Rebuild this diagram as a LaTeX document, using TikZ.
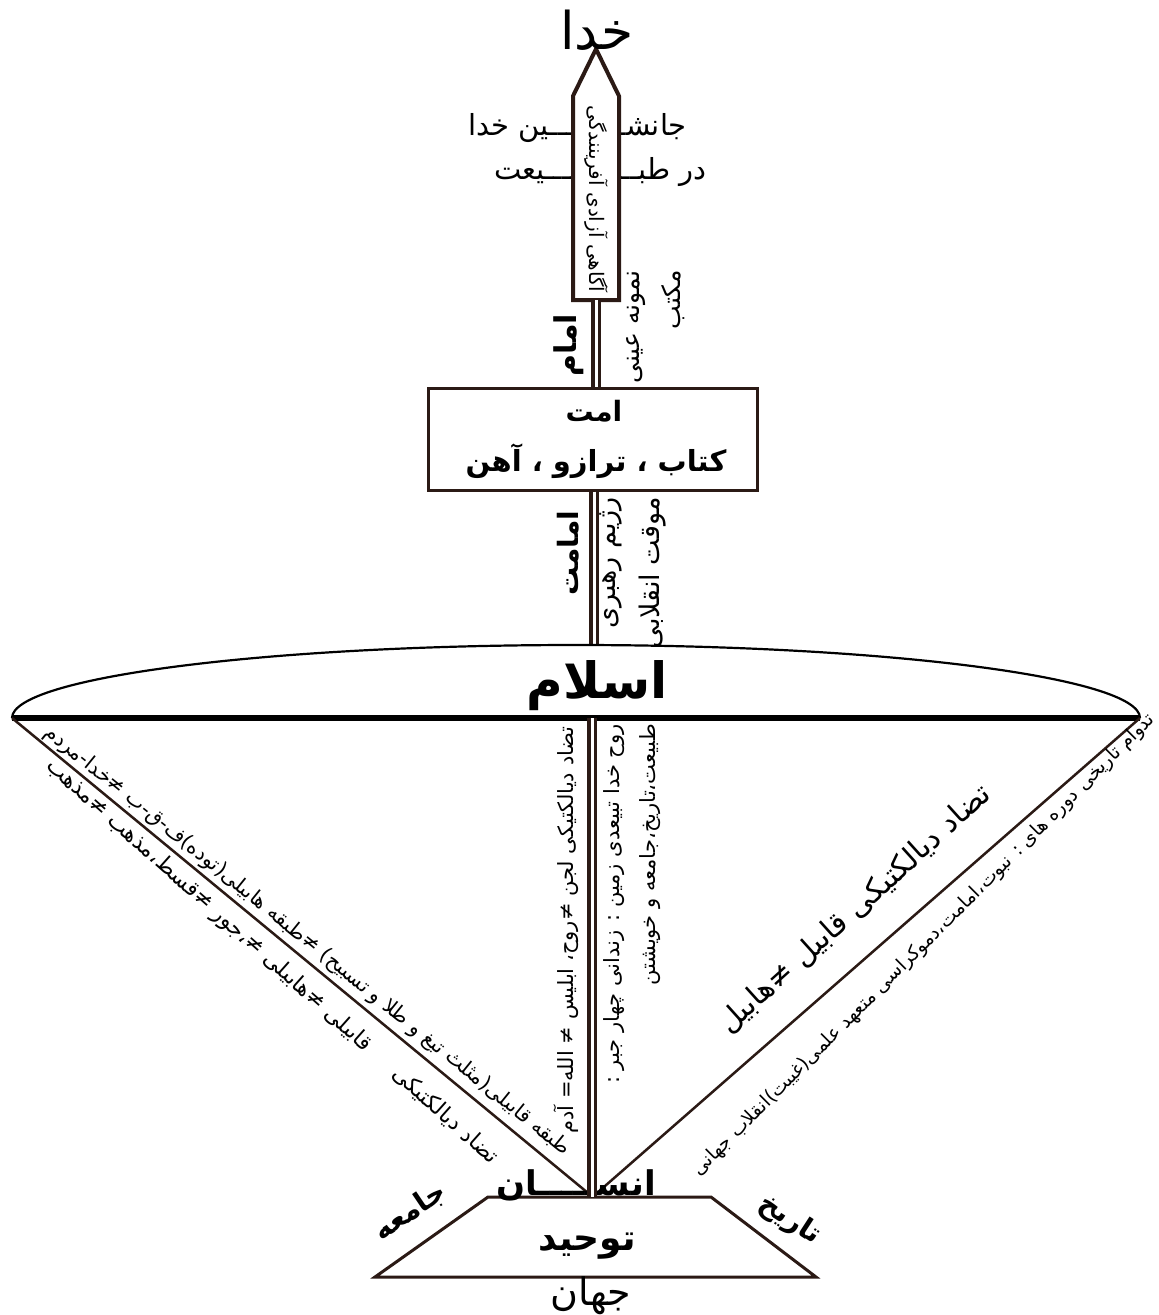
\documentclass[tikz,border=0pt]{standalone}
\usepackage{fontspec}
\newfontfamily\arf[Script=Arabic]{DejaVu Sans}
\TeXXeTstate=1
\newcommand{\rt}[1]{\beginR #1\endR}
\definecolor{lc}{HTML}{2B1A15}
\tikzset{
  ar/.style={font=\arf\fontsize{#1}{#1}\selectfont, inner sep=0pt, text=black},
  arb/.style={font=\arf\bfseries\fontsize{#1}{#1}\selectfont, inner sep=0pt, text=black},
  dbl/.style={draw=lc, double=white, double distance=3pt, line width=3.8pt},
  diag/.style={draw=lc, line width=2.5pt},
  pent/.style={draw=lc, fill=white, line width=4pt},
  frame/.style={draw=lc, line width=3pt},
}
\begin{document}
\begin{tikzpicture}[x=1pt,y=-1pt]
\useasboundingbox[fill=white] (0,0) rectangle (1159,1315);
% key coordinates
\coordinate (tip) at (596,49);
\coordinate (penB) at (596,300);
\coordinate (islTop) at (594,646);
\coordinate (eL) at (12,718);
\coordinate (eR) at (1140,718);
\coordinate (baseC) at (592,718);
\coordinate (man) at (592,1197);
\coordinate (manL) at (588,1193);
\coordinate (manR) at (597,1193);
% kashida texts behind the pentagon
\node[ar=29, anchor=east] (jan) at (687,128) {\rt{جانشـــــــــین خدا}};
\node[ar=29, anchor=east] (tab) at (707,172) {\rt{در طبـــــــــــیعت}};
% pentagon
\draw[pent] (573,300) -- (573,96) -- (tip) -- (619,96) -- (619,300) -- cycle;
\node[ar=20, rotate=-90] (azadi) at (596,199) {\rt{آگاهی آزادی آفرینندگی}};
\node[ar=52] (khoda) at (597,30) {\rt{خدا}};
% box
\node[frame, minimum width=329pt, minimum height=102pt, inner sep=0pt] (umat) at (592.5,439) {};
\node[arb=28] (umatT) at (594,411) {\rt{امت}};
\node[arb=29] (ketab) at (596,461) {\rt{کتاب ، ترازو ، آهن}};
\draw[dbl] (penB) -- (penB |- umat.north);
\draw[dbl] (islTop |- umat.south) -- (islTop);
% labels along upper stems
\node[arb=30, rotate=90] (imam) at (569,345) {\rt{امام}};
\node[ar=25, rotate=90, align=right, anchor=north east] (nemune) at (626,270) {\rt{نمونه عینی}\\[15pt]\rt{مکتب}};
\node[arb=28, rotate=90] (imamat) at (568,553) {\rt{امامت}};
\node[ar=27, rotate=90, align=right, anchor=north east] (rezhim) at (599,497) {\rt{رژیم رهبری}\\[16pt]\rt{موقت انقلابی}};
% ellipse (upper half) and base line
\draw[black, line width=2.2pt] (eL) .. controls (12,677.7) and (264.5,645) .. (576,645)
   .. controls (887.5,645) and (1140,677.7) .. (eR);
\draw[black, line width=6pt] (eL) -- (eR);
\node[arb=50] (islam) at (597,686) {\rt{اسلام}};
% diagonals
\draw[diag] (eL) -- (manL);
\draw[diag] (eR) -- (manR);
% trapezoid
\draw[frame] (488,1197) -- (711,1197) -- (816,1277) -- (375,1277) -- cycle;
% centre vertical texts
\node[ar=21, rotate=90] (lajan) at (566,930) {\rt{تضاد دیالکتیکی لجن ≠روح، ابلیس ≠ الله= آدم}};
\node[ar=21, rotate=90, align=right, anchor=north east] (ruh) at (603,724) {\rt{روح خدا تبیعدی زمین : زندانی چهار جبر :}\\[14pt]\rt{طبیعت،تاریخ،جامعه و خویشتن}};
% right diagonal texts
\node[ar=30, rotate=42] (qabil) at (855,909) {\rt{تضاد دیالکتیکی قابیل ≠هابیل}};
\node[ar=19, rotate=45] (tadavom) at (924,945) {\rt{تدوام تاریخی دوره های : نبوت،امامت،دموکراسی متعهد علمی(غیبت)انقلاب جهانی}};
% left diagonal texts
\node[ar=20.5, rotate=-39] (tabaqe) at (307,941) {\rt{طبقه قابیلی(مثلث تیغ و طلا و تسبیح) ≠طبقه هابیلی(توده)ف-ق-ب ≠خدا-مردم}};
\node[ar=22, rotate=-41.7] (mazhab) at (272,962) {\rt{تضاد دیالکتیکی\hspace{1.6em}قابیلی ≠هابیلی ≠،جور ≠قسط،مذهب ≠مذهب}};
% bottom texts
\node[arb=34, anchor=base east] (ensan) at (656,1195) {\rt{انســـــان}};
\draw[dbl] (baseC) -- (man);
\node[arb=36] (tohid) at (587,1246) {\rt{توحید}};
\node[ar=38] (jahan) at (591,1296) {\rt{جهان}};
\node[arb=28, rotate=34] (jamee) at (410,1212) {\rt{جامعه}};
\node[arb=28, rotate=-33] (tarikh) at (790,1220) {\rt{تاریخ}};
\end{tikzpicture}
\end{document}
